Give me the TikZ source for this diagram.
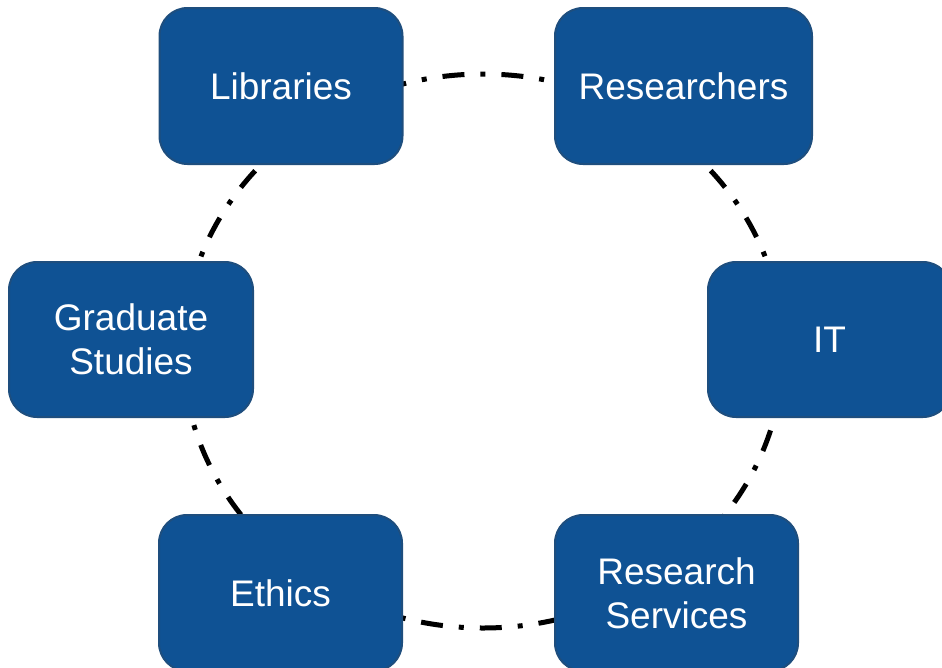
\documentclass[tikz,border=0pt]{standalone}
\usepackage{fontspec}
\setmainfont{Liberation Sans}
\definecolor{boxfill}{HTML}{0F5294}
\definecolor{boxline}{HTML}{1E4E7E}
\begin{document}
\begin{tikzpicture}[x=1pt,y=-1pt,
  box/.style={draw=boxline, line width=2pt, fill=boxfill, rounded corners=28pt,
    text=white, align=center, inner sep=0pt, minimum width=243pt, minimum height=156pt,
    font=\fontsize{37}{44}\selectfont},
  ring/.style={line width=5pt, dash pattern=on 22pt off 16pt on 5pt off 16pt}]
\useasboundingbox (0,0) rectangle (942,667);
\coordinate (ctr) at (483,351);
\draw[ring] (ctr) ellipse [x radius=300pt, y radius=277pt];
\node[box] (lib) at (281,86) {Libraries};
\node[box, minimum width=257pt] (res) at (683.5,86) {Researchers};
\node[box, minimum height=155pt] (it) at (829.5,339.5) {IT};
\node[box, minimum height=155pt, minimum width=244pt] (grad) at (131,339.5) {Graduate\\Studies};
\node[box] (eth) at (280.5,593) {Ethics};
\node[box] (rs) at (676.5,593) {Research\\Services};
\end{tikzpicture}
\end{document}
